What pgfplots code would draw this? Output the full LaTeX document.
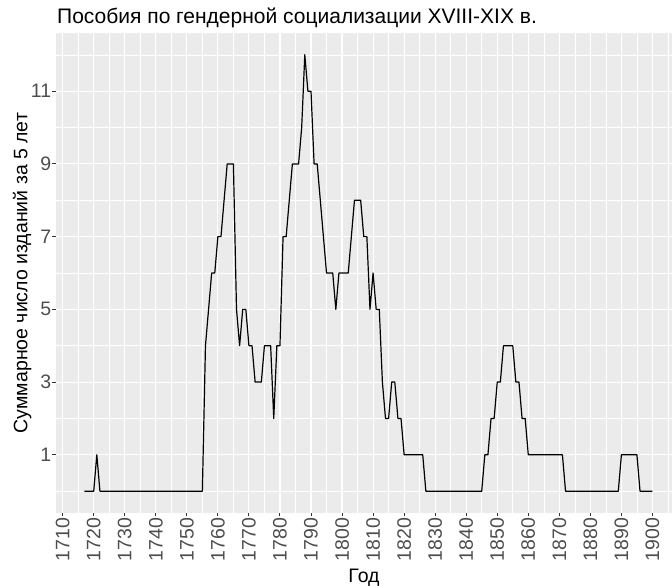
\documentclass[border=0pt]{standalone}
\usepackage{pgfplots}
\pgfplotsset{compat=1.18}
\usepackage{pgfplotstable}
\usepackage{fontspec}
\setmainfont{Liberation Sans}
\definecolor{panelbg}{HTML}{EBEBEB}
\definecolor{ticklab}{HTML}{4D4D4D}
\definecolor{tickc}{HTML}{333333}
\pgfplotstableread{
year n
1717 0
1718 0
1719 0
1720 0
1721 1
1722 0
1755 0
1756 4
1757 5
1758 6
1759 6
1760 7
1761 7
1762 8
1763 9
1764 9
1765 9
1766 5
1767 4
1768 5
1769 5
1770 4
1771 4
1772 3
1773 3
1774 3
1775 4
1776 4
1777 4
1778 2
1779 4
1780 4
1781 7
1782 7
1783 8
1784 9
1785 9
1786 9
1787 10
1788 12
1789 11
1790 11
1791 9
1792 9
1793 8
1794 7
1795 6
1796 6
1797 6
1798 5
1799 6
1800 6
1801 6
1802 6
1803 7
1804 8
1805 8
1806 8
1807 7
1808 7
1809 5
1810 6
1811 5
1812 5
1813 3
1814 2
1815 2
1816 3
1817 3
1818 2
1819 2
1820 1
1826 1
1827 0
1845 0
1846 1
1847 1
1848 2
1849 2
1850 3
1851 3
1852 4
1855 4
1856 3
1857 3
1858 2
1859 2
1860 1
1871 1
1872 0
1889 0
1890 1
1895 1
1896 0
1900 0
}\datatable
\begin{document}
\begin{tikzpicture}[x=1pt,y=1pt]
\useasboundingbox (0,0) rectangle (672,586);
\begin{axis}[
  at={(56pt,73pt)}, anchor=south west,
  width=616pt, height=480pt, scale only axis,
  xmin=1707.85, xmax=1906.3, ymin=-0.6, ymax=12.6,
  axis background/.style={fill=panelbg},
  axis line style={draw=none},
  xtick={1710,1720,...,1900},
  minor xtick={1705,1715,...,1905},
  ytick={1,3,5,7,9,11},
  minor ytick={0,2,...,12},
  grid=both,
  major grid style={white, line width=1.1pt},
  minor grid style={white, line width=0.55pt},
  xtick pos=bottom, ytick pos=left,
  tick align=outside,
  major tick length=3.5pt,
  minor tick length=0pt,
  major tick style={tickc, line width=1pt},
  ticklabel style={font=\fontsize{19.5}{19.5}\selectfont, text=ticklab, inner sep=1.2pt},
  xticklabel style={rotate=90, anchor=east},
  /pgf/number format/assume math mode=true,
  /pgf/number format/1000 sep={},
  xlabel={Год},
  ylabel={Суммарное число изданий за 5 лет},
  label style={font=\fontsize{19.5}{19.5}\selectfont},
  xlabel style={at={(axis description cs:0.5,-0.1458)}, anchor=base},
  ylabel style={at={(axis description cs:-0.0466,0.5)}, anchor=base},
]
\addplot[black, line width=1.2pt, line join=round] table[x=year, y=n] {\datatable};
\end{axis}
\node[anchor=base west, font=\fontsize{21}{21}\selectfont, inner sep=0pt] at (57,562) {Пособия по гендерной социализации XVIII-XIX в.};
\end{tikzpicture}
\end{document}
